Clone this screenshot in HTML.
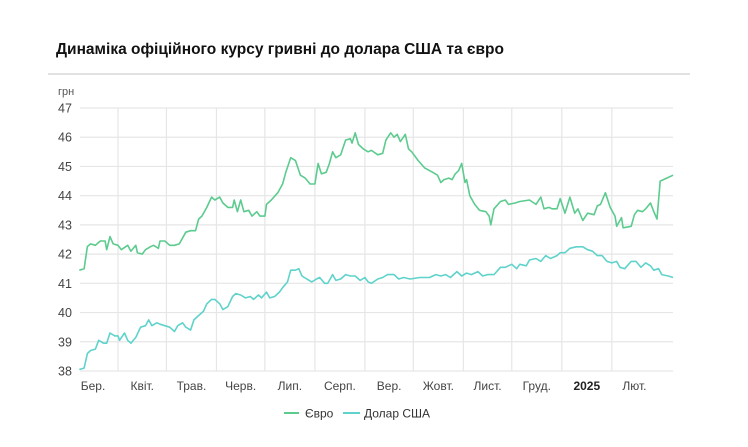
<!DOCTYPE html>
<html><head><meta charset="utf-8"><style>
body{margin:0;background:#fff;font-family:"Liberation Sans",sans-serif;}
#wrap{position:relative;width:748px;height:447px;overflow:hidden;}
</style></head><body>
<div id="wrap">
<svg id="chart" width="748" height="447" xmlns="http://www.w3.org/2000/svg">
<text x="56" y="54" font-size="15.5" font-weight="bold" fill="#111">Динаміка офіційного курсу гривні до долара США та євро</text>
<rect x="48" y="73" width="642" height="2" fill="#e2e2e2"/>
<text x="58" y="95" font-size="11" fill="#555">грн</text>
<g id="grid"></g><g id="axes"></g><g id="series"></g>
<g>
<g><line x1="284" y1="413" x2="299" y2="413" stroke="#5ccb8e" stroke-width="2"/><text x="305" y="417.5" font-size="12" fill="#333">Євро</text></g>
<g><line x1="343" y1="413" x2="360" y2="413" stroke="#5fd3cb" stroke-width="2"/><text x="364" y="417.5" font-size="12" fill="#333">Долар США</text></g>
</g>
</svg></div>
<script>
const yTicks=[38,39,40,41,42,43,44,45,46,47];
const monthLabels=["Бер.","Квіт.","Трав.","Черв.","Лип.","Серп.","Вер.","Жовт.","Лист.","Груд.","2025","Лют."];
const monthStarts=[0,31,61,92,122,153,184,214,245,275,306,337,365];
const eurDays=[7,10,12,14,17,20,23,24,26,28,31,33,37,39,42,43,46,48,51,53,56,57,60,63,66,69,73,76,79,81,83,86,89,91,94,96,99,102,103,105,107,109,112,114,117,119,122,123,126,130,133,135,138,141,144,147,150,153,155,157,160,162,164,166,169,172,175,176,178,180,183,186,188,192,195,197,200,202,204,206,209,211,213,217,221,226,229,231,233,236,238,240,242,244,246,247,249,252,255,259,261,262,264,268,271,273,277,280,286,290,293,295,298,300,303,305,308,311,314,316,319,322,326,328,330,333,336,339,340,343,344,349,351,353,356,358,361,363,365,367,371,375];
const eurValues=[41.45,41.5,42.26,42.35,42.3,42.45,42.45,42.15,42.6,42.35,42.3,42.15,42.3,42.1,42.3,42.05,42.0,42.15,42.25,42.3,42.2,42.45,42.45,42.3,42.3,42.35,42.75,42.8,42.8,43.2,43.3,43.6,43.95,43.85,43.95,43.75,43.6,43.6,43.85,43.45,43.85,43.45,43.5,43.3,43.45,43.3,43.3,43.7,43.85,44.1,44.4,44.8,45.3,45.2,44.7,44.6,44.4,44.4,45.1,44.75,44.8,45.1,45.5,45.3,45.4,45.9,45.95,45.8,46.15,45.75,45.6,45.5,45.55,45.4,45.45,45.9,46.15,46.0,46.1,45.85,46.1,45.6,45.5,45.2,44.95,44.8,44.7,44.45,44.55,44.6,44.55,44.75,44.85,45.1,44.45,44.55,44.0,43.7,43.5,43.45,43.3,43.0,43.55,43.8,43.85,43.7,43.75,43.8,43.85,43.7,43.95,43.55,43.6,43.55,43.55,43.9,43.4,43.95,43.4,43.55,43.15,43.4,43.35,43.65,43.7,44.1,43.6,43.3,42.95,43.25,42.9,42.95,43.35,43.5,43.45,43.55,43.75,43.45,43.2,44.5,44.6,44.7];
const usdDays=[7,10,12,14,17,19,22,24,26,29,31,32,35,37,39,42,45,48,50,52,55,57,60,63,66,68,71,73,76,78,81,84,86,89,91,94,96,99,102,104,107,110,113,115,118,120,123,125,128,131,133,136,138,141,143,145,148,151,154,156,159,161,164,166,169,172,175,178,181,184,186,188,192,195,198,202,205,208,212,218,224,228,231,234,237,241,244,247,250,254,257,260,264,268,271,275,278,280,284,286,290,293,296,299,303,305,308,311,315,319,322,325,328,331,334,337,340,342,345,349,352,355,358,361,363,366,368,372,375];
const usdValues=[38.05,38.1,38.6,38.7,38.75,39.05,38.95,38.95,39.3,39.2,39.2,39.05,39.3,39.05,38.95,39.15,39.5,39.55,39.75,39.55,39.65,39.6,39.55,39.5,39.35,39.55,39.65,39.5,39.4,39.75,39.9,40.05,40.3,40.45,40.45,40.3,40.1,40.2,40.55,40.65,40.6,40.5,40.55,40.45,40.6,40.5,40.7,40.5,40.55,40.7,40.85,41.05,41.45,41.45,41.5,41.25,41.15,41.05,41.15,41.2,41.0,41.0,41.3,41.1,41.15,41.3,41.25,41.25,41.1,41.2,41.05,41.0,41.15,41.2,41.3,41.3,41.15,41.2,41.15,41.2,41.2,41.3,41.25,41.3,41.2,41.4,41.25,41.35,41.3,41.4,41.25,41.3,41.3,41.55,41.55,41.65,41.5,41.65,41.6,41.8,41.85,41.75,41.95,41.85,41.95,42.05,42.05,42.2,42.25,42.25,42.15,42.1,41.95,41.95,41.75,41.7,41.75,41.55,41.5,41.75,41.75,41.55,41.7,41.6,41.45,41.5,41.3,41.25,41.2];

const NS="http://www.w3.org/2000/svg";
const X0=80,X1=673,Y0=108,Y1=371;
function xs(d){return 68+d*(589/365);}
function ys(v){return Y1-(v-38)*(Y1-Y0)/9;}
const grid=document.getElementById('grid'),axes=document.getElementById('axes'),ser=document.getElementById('series');
function mk(tag,attrs,parent){const e=document.createElementNS(NS,tag);for(const k in attrs)e.setAttribute(k,attrs[k]);parent.appendChild(e);return e;}
yTicks.forEach(v=>{
  const l=mk('line',{x1:X0,x2:X1,y1:ys(v),y2:ys(v),stroke:'#e6e6e6','stroke-width':1.2},grid);
  
  
  const t=mk('text',{x:58,y:ys(v)+4.5,'font-size':12.5,fill:'#444'},axes);
  t.textContent=v;
  
  
});
for(let i=1;i<monthStarts.length-1;i++){
  const x=xs(monthStarts[i]);
  const l=mk('line',{x1:x,x2:x,y1:Y0,y2:Y1,stroke:'#e6e6e6','stroke-width':1.2},grid);
  
  
}
monthLabels.forEach((m,i)=>{
  let cx=(xs(monthStarts[i])+xs(monthStarts[i+1]))/2;
  if(i===0)cx=93;
  const t=mk('text',{x:cx,y:390,'font-size':12,fill:'#444','text-anchor':'middle'},axes);
  if(m==='2025'){t.setAttribute('font-weight','bold');t.setAttribute('fill','#222');}
  t.textContent=m;
  
  
});
function line(days,vals,color,name){
  const d=days.map((dd,i)=>(i?'L':'M')+xs(dd).toFixed(1)+','+ys(vals[i]).toFixed(1)).join('');
  const p=mk('path',{d:d,fill:'none',stroke:color,'stroke-width':1.6,'stroke-linejoin':'round'},ser);
  
  
}
line(eurDays,eurValues,'#5ccb8e','euro-line');
line(usdDays,usdValues,'#5fd3cb','usd-line');
</script>
</body></html>
